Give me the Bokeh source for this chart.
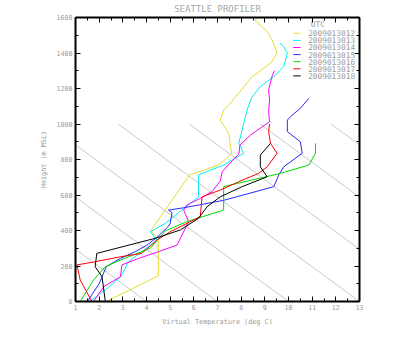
from bokeh.plotting import figure
from bokeh.models import Range1d, LinearAxis, FixedTicker, CustomLabelingPolicy
from bokeh.core.properties import value
from bokeh.embed import file_html
from bokeh.resources import INLINE

# ---- data (virtual temperature degC, height m MSL) ----
times = ["2009013012", "2009013013", "2009013014", "2009013015",
         "2009013016", "2009013017", "2009013018"]
colors = ["#e6dc32", "#00f0f0", "#ff00ff", "#2828ff", "#00dc00", "#ff0000", "#000000"]

t12 = [2.3, 4.5, 4.5, 4.2, 5.82, 7.05, 7.54, 7.6, 7.47, 7.12, 7.26, 7.54, 8.46, 9.24, 9.52, 9.31, 9.1, 8.6, 8.67]
z12 = [0, 145, 340, 402, 713, 769, 825, 835, 947, 1022, 1079, 1117, 1266, 1342, 1398, 1473, 1520, 1583, 1604]

t13 = [1.6, 2.3, 2.92, 3.24, 4.44, 4.16, 4.79, 6.2, 6.2, 7.26, 8.11, 7.9, 8.11, 8.25, 8.46, 8.81, 9.38, 9.8, 9.95, 9.8, 9.63]
z13 = [0, 70, 140, 224, 346, 393, 440, 590, 713, 769, 835, 891, 1004, 1079, 1154, 1210, 1267, 1323, 1398, 1436, 1458]

t14 = [1.76, 2.19, 2.9, 2.96, 3.67, 4.51, 5.29, 5.78, 5.57, 5.71, 6.27, 6.77, 7.12, 7.2, 7.6, 7.9, 7.95, 8.4, 8.9, 9.2, 9.16, 9.2, 9.16, 9.3, 9.4]
z14 = [0, 83, 140, 206, 243, 281, 318, 450, 515, 544, 581, 619, 680, 731, 790, 830, 882, 938, 985, 1013, 1069, 1135, 1192, 1267, 1300]

t15 = [1.5, 2.0, 2.3, 2.9, 3.53, 4.02, 4.4, 4.9, 5.0, 5.08, 4.93, 5.57, 7.26, 9.38, 9.59, 9.8, 10.58, 10.5, 9.95, 9.95, 10.16, 10.5, 10.86]
z15 = [0, 100, 196, 243, 281, 318, 356, 420, 440, 500, 515, 528, 570, 647, 713, 759, 835, 900, 957, 1022, 1051, 1088, 1145]

t16 = [1.2, 1.76, 2.26, 2.9, 4.16, 4.8, 5.71, 7.26, 7.26, 9.66, 10.86, 11.14, 11.14]
z16 = [0, 121, 196, 234, 300, 398, 450, 515, 647, 722, 769, 835, 891]

t17 = [1.69, 1.2, 1.06, 1.83, 2.9, 3.8, 4.44, 5.0, 5.43, 6.27, 6.35, 7.12, 7.9, 8.74, 9.1, 9.52, 9.24, 9.16, 9.2]
z17 = [0, 121, 206, 224, 252, 271, 346, 393, 421, 478, 590, 628, 675, 722, 759, 835, 891, 957, 1000]

t18 = [2.26, 2.12, 1.83, 1.9, 4.37, 5.43, 6.2, 6.56, 7.12, 8.04, 9.1, 8.81, 8.81, 9.24]
z18 = [0, 140, 196, 271, 356, 403, 469, 534, 590, 647, 703, 759, 825, 891]

series_t = [t12, t13, t14, t15, t16, t17, t18]
series_z = [z12, z13, z14, z15, z16, z17, z18]

# reference (adiabat-like) guide lines: surface temperatures and lapse rate
guide_t0 = [4, 7, 10, 13, 16, 19, 22]
guide_lapse = 10.2      # degC per km
guide_top = 1000        # m

x_ticks = list(range(1, 14))
y_ticks = list(range(0, 1601, 200))

FONT = "DejaVu Sans Mono"
GRAY = "#9a9a9a"

p = figure(width=392, height=348, x_range=Range1d(1, 13), y_range=Range1d(0, 1600),
           output_backend="svg", toolbar_location=None,
           min_border_left=75, min_border_right=33, min_border_top=17, min_border_bottom=47)
p.grid.visible = False
p.outline_line_color = None
p.background_fill_color = "white"
p.border_fill_color = "white"

xt = FixedTicker(ticks=x_ticks, minor_ticks=[v + 0.5 for v in x_ticks[:-1]])
yt = FixedTicker(ticks=y_ticks, minor_ticks=[v + 100 for v in y_ticks[:-1]])


def style(ax, labels=True):
    ax.axis_line_color = "black"
    ax.axis_line_width = 2
    ax.major_tick_line_color = "black"
    ax.minor_tick_line_color = "black"
    ax.major_tick_line_width = 1
    ax.minor_tick_line_width = 1
    ax.major_tick_in = 5
    ax.major_tick_out = 0
    ax.minor_tick_in = 3
    ax.minor_tick_out = 0
    ax.axis_label_text_font = FONT
    ax.axis_label_text_font_style = "normal"
    ax.axis_label_text_color = GRAY
    ax.axis_label_text_font_size = "6.8px"
    if labels:
        ax.major_label_text_font = FONT
        ax.major_label_text_font_size = "6.6px"
        ax.major_label_text_color = GRAY
        ax.major_label_standoff = 3
    else:
        ax.major_label_policy = CustomLabelingPolicy(code="return new Set()")
        ax.major_label_text_font_size = "1px"
        ax.major_label_standoff = 0


p.xaxis.ticker = xt
p.yaxis.ticker = yt
style(p.xaxis[0])
style(p.yaxis[0])
p.xaxis.axis_label = "Virtual Temperature (deg C)"
p.yaxis.axis_label = "Height (m MSL)"
p.xaxis.axis_label_standoff = 5
p.yaxis.axis_label_standoff = 6

top = LinearAxis(ticker=xt)
style(top, labels=False)
top.axis_label = "SEATTLE PROFILER"
top.axis_label_text_font_size = "9px"
top.axis_label_text_color = "#a8a8a8"
top.axis_label_standoff = 0
p.add_layout(top, "above")
right = LinearAxis(ticker=yt)
style(right, labels=False)
p.add_layout(right, "right")

# guide lines
gx0, gy0, gx1, gy1 = [], [], [], []
for t0 in guide_t0:
    gx0.append(t0)
    gy0.append(0)
    gx1.append(t0 - guide_lapse * guide_top / 1000.0)
    gy1.append(guide_top)
p.segment(gx0, gy0, gx1, gy1, line_color="#c8c8c8", line_width=1)

# profiles
for t, z, c in zip(series_t, series_z, colors):
    p.line(t, z, line_color=c, line_width=1)

# legend (hand-built, GrADS style)
leg_x0, leg_x1, leg_tx = 10.2, 10.51, 10.83
leg_y0, leg_dy = 1511, 40
p.text([10.94], [leg_y0 + 52], text=["UTC"], text_font=value(FONT), text_font_size="7.8px",
       text_color=GRAY, text_baseline="middle", text_align="left")
ly = [leg_y0 - i * leg_dy for i in range(len(times))]
p.segment([leg_x0] * len(times), ly, [leg_x1] * len(times), ly, line_color=colors, line_width=1)
p.text([leg_tx] * len(times), ly, text=times, text_font=value(FONT), text_font_size="7.8px",
       text_color=GRAY, text_baseline="middle", text_align="left")

open("out.html", "w").write(file_html(p, INLINE))
